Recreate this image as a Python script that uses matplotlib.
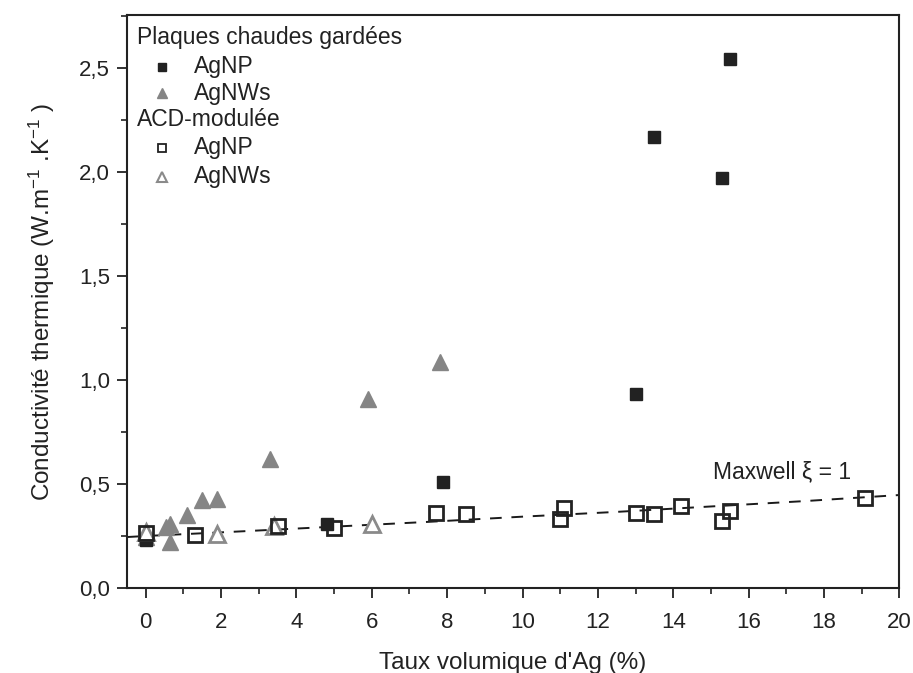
import numpy as np
import matplotlib
matplotlib.use('Agg')
from matplotlib import pyplot as plt
from matplotlib.ticker import MultipleLocator, FuncFormatter

plt.rcParams['font.family'] = ['Liberation Sans', 'DejaVu Sans']
plt.rcParams['mathtext.fontset'] = 'custom'
plt.rcParams['mathtext.rm'] = 'Liberation Sans'
plt.rcParams['mathtext.it'] = 'Liberation Sans:italic'

# plaques chaudes gardees
pc_np_x = [0, 4.8, 7.9, 13.0, 13.5, 15.3, 15.5]
pc_np_y = [0.23, 0.31, 0.51, 0.935, 2.17, 1.97, 2.545]
pc_nw_x = [0, 0.55, 0.65, 0.65, 1.1, 1.5, 1.9, 3.3, 5.9, 7.8]
pc_nw_y = [0.245, 0.295, 0.31, 0.22, 0.35, 0.425, 0.43, 0.62, 0.91, 1.085]

# ACD modulee
acd_np_x = [0, 1.3, 3.5, 5.0, 7.7, 8.5, 11.0, 11.1, 13.0, 13.5, 14.2, 15.3, 15.5, 19.1]
acd_np_y = [0.263, 0.255, 0.298, 0.288, 0.362, 0.356, 0.332, 0.386, 0.362, 0.358, 0.394, 0.32, 0.372, 0.432]
acd_nw_x = [0, 1.9, 3.4, 6.0]
acd_nw_y = [0.27, 0.26, 0.3, 0.308]

# Maxwell xi = 1
mx_x = [-0.5, 0, 2.5, 5, 7.5, 10, 12.5, 15, 17.5, 20]
mx_y = [0.245, 0.25, 0.272, 0.295, 0.318, 0.343, 0.366, 0.392, 0.418, 0.447]

fig = plt.figure(figsize=(9.13, 6.73), dpi=100)
ax = fig.add_axes([0.139, 0.1263, 0.846, 0.8514])

ax.plot(mx_x, mx_y, color='#1a1a1a', linestyle=(0, (6, 5)), linewidth=1.4, zorder=1)

ax.plot(pc_nw_x, pc_nw_y, linestyle='none', marker='^', markersize=11,
        color='#858585', markeredgecolor='#858585', zorder=2)
ax.plot(pc_np_x, pc_np_y, linestyle='none', marker='s', markersize=9,
        color='#222222', markeredgecolor='#222222', zorder=3)
ax.plot(acd_nw_x, acd_nw_y, linestyle='none', marker='^', markersize=12,
        markerfacecolor='white', markeredgecolor='#8a8a8a', markeredgewidth=2, zorder=4)
ax.plot(acd_np_x, acd_np_y, linestyle='none', marker='s', markersize=10,
        markerfacecolor='none', markeredgecolor='#222222', markeredgewidth=2, zorder=5)

ax.text(16.9, 0.56, 'Maxwell \u03be = 1', fontsize=16.5, ha='center', va='center', color='#222222')

ax.set_xlim(-0.5, 20)
ax.set_ylim(0, 2.755)
ax.xaxis.set_major_locator(MultipleLocator(2))
ax.xaxis.set_minor_locator(MultipleLocator(1))
ax.yaxis.set_major_locator(MultipleLocator(0.5))
ax.yaxis.set_minor_locator(MultipleLocator(0.25))
ax.yaxis.set_major_formatter(FuncFormatter(lambda v, p: ('%.1f' % v).replace('.', ',')))
ax.tick_params(which='major', direction='out', length=7, width=1.3, labelsize=16, colors='#222222', pad=5)
ax.tick_params(axis='x', which='major', pad=10)
ax.tick_params(which='minor', direction='out', length=4, width=1.2, colors='#222222')
for s in ax.spines.values():
    s.set_linewidth(1.5)
    s.set_color('#222222')

ax.set_xlabel("Taux volumique d'Ag (%)", fontsize=17.5, color='#222222', labelpad=14)
ax.set_ylabel(r'Conductivité thermique (W.m$^{-1}$ .K$^{-1}$ )', fontsize=17.5, color='#222222', labelpad=16)

# legend drawn by hand in axes coordinates
tr = ax.transAxes
rows = [0.9616, 0.9098, 0.8634, 0.8168, 0.7679, 0.7178]
lx_head, lx_mark, lx_text = 0.0125, 0.0455, 0.0865
fs_leg = 16.5
ax.text(lx_head, rows[0], 'Plaques chaudes gardées', transform=tr, fontsize=fs_leg, va='center', color='#222222')
ax.plot([lx_mark], [rows[1]], transform=tr, marker='s', markersize=6, color='#222222', clip_on=False)
ax.text(lx_text, rows[1], 'AgNP', transform=tr, fontsize=fs_leg, va='center', color='#222222')
ax.plot([lx_mark], [rows[2]], transform=tr, marker='^', markersize=7, color='#858585', clip_on=False)
ax.text(lx_text, rows[2], 'AgNWs', transform=tr, fontsize=fs_leg, va='center', color='#222222')
ax.text(lx_head, rows[3], 'ACD-modulée', transform=tr, fontsize=fs_leg, va='center', color='#222222')
ax.plot([lx_mark], [rows[4]], transform=tr, marker='s', markersize=6, markerfacecolor='white',
        markeredgecolor='#222222', markeredgewidth=1.3, clip_on=False)
ax.text(lx_text, rows[4], 'AgNP', transform=tr, fontsize=fs_leg, va='center', color='#222222')
ax.plot([lx_mark], [rows[5]], transform=tr, marker='^', markersize=7, markerfacecolor='white',
        markeredgecolor='#8a8a8a', markeredgewidth=1.5, clip_on=False)
ax.text(lx_text, rows[5], 'AgNWs', transform=tr, fontsize=fs_leg, va='center', color='#222222')

fig.savefig('out.png', dpi=100)
